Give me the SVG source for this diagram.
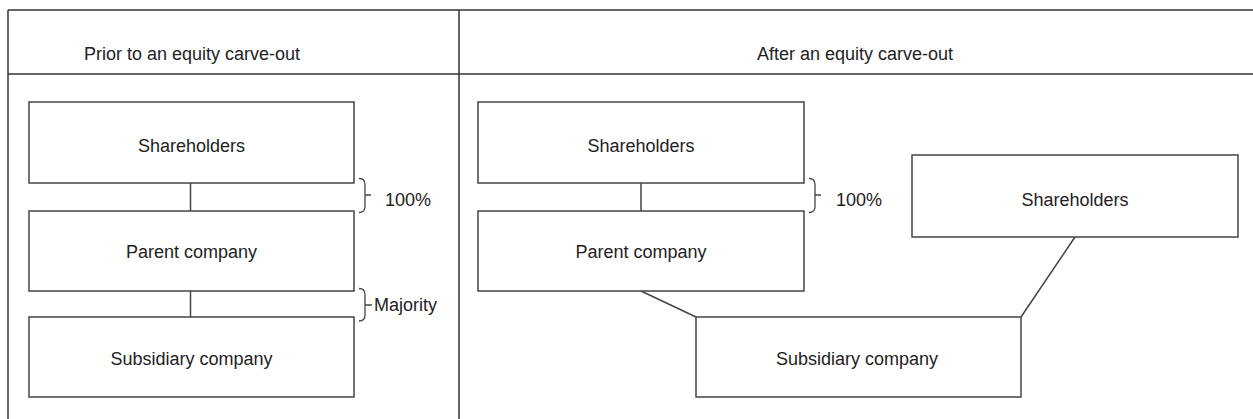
<svg xmlns="http://www.w3.org/2000/svg" width="1253" height="419" viewBox="0 0 1253 419">
<style>
.frame{stroke:#333;stroke-width:1.5;fill:none}
.box{fill:#fff;stroke:#444;stroke-width:1.5}
.conn{stroke:#444;stroke-width:1.5;fill:none}
.brace{stroke:#444;stroke-width:1.3;fill:none}
text{font-family:"Liberation Sans",Arial,sans-serif;font-size:18px;fill:#222}
.c{text-anchor:middle}
</style>
<rect width="1253" height="419" fill="#fff"/>
<g id="frame">
<line class="frame" x1="8" y1="10" x2="1253" y2="10"/>
<line class="frame" x1="8" y1="74" x2="1253" y2="74"/>
<line class="frame" x1="8" y1="10" x2="8" y2="419"/>
<line class="frame" x1="459" y1="10" x2="459" y2="419"/>
<text class="c" x="192" y="60">Prior to an equity carve-out</text>
<text class="c" x="855" y="60">After an equity carve-out</text>
</g>
<g id="connectors">
<line class="conn" x1="190.5" y1="183" x2="190.5" y2="211"/>
<line class="conn" x1="190.5" y1="291" x2="190.5" y2="317"/>
<line class="conn" x1="641" y1="183" x2="641" y2="211"/>
<line class="conn" x1="641" y1="291" x2="696" y2="317"/>
<line class="conn" x1="1075" y1="237" x2="1021" y2="317"/>
</g>
<g id="left-shareholders">
<rect class="box" x="29" y="102" width="325" height="81"/>
<text class="c" x="191.5" y="151.5">Shareholders</text>
</g>
<g id="left-parent">
<rect class="box" x="29" y="211" width="325" height="80"/>
<text class="c" x="191.5" y="258">Parent company</text>
</g>
<g id="left-subsidiary">
<rect class="box" x="29" y="317" width="325" height="80"/>
<text class="c" x="191.5" y="365">Subsidiary company</text>
</g>
<g id="left-100">
<path class="brace" d="M359,178.5 Q365,178.5 365,184.5 V206.5 Q365,212.5 359,212.5 M365,195 H371"/>
<text x="385" y="206">100%</text>
</g>
<g id="left-majority">
<path class="brace" d="M359,288.5 Q365,288.5 365,294.5 V315 Q365,321 359,321 M365,305 H372"/>
<text x="374" y="311">Majority</text>
</g>
<g id="right-shareholders">
<rect class="box" x="478" y="102" width="326" height="81"/>
<text class="c" x="641" y="151.5">Shareholders</text>
</g>
<g id="right-parent">
<rect class="box" x="478" y="211" width="326" height="80"/>
<text class="c" x="641" y="258">Parent company</text>
</g>
<g id="right-100">
<path class="brace" d="M809,178.5 Q815,178.5 815,184.5 V206.5 Q815,212.5 809,212.5 M815,195 H821"/>
<text x="836" y="206">100%</text>
</g>
<g id="right-new-shareholders">
<rect class="box" x="912" y="155" width="326" height="82"/>
<text class="c" x="1075" y="206">Shareholders</text>
</g>
<g id="right-subsidiary">
<rect class="box" x="696" y="317" width="325" height="80"/>
<text class="c" x="857" y="365">Subsidiary company</text>
</g>
</svg>
